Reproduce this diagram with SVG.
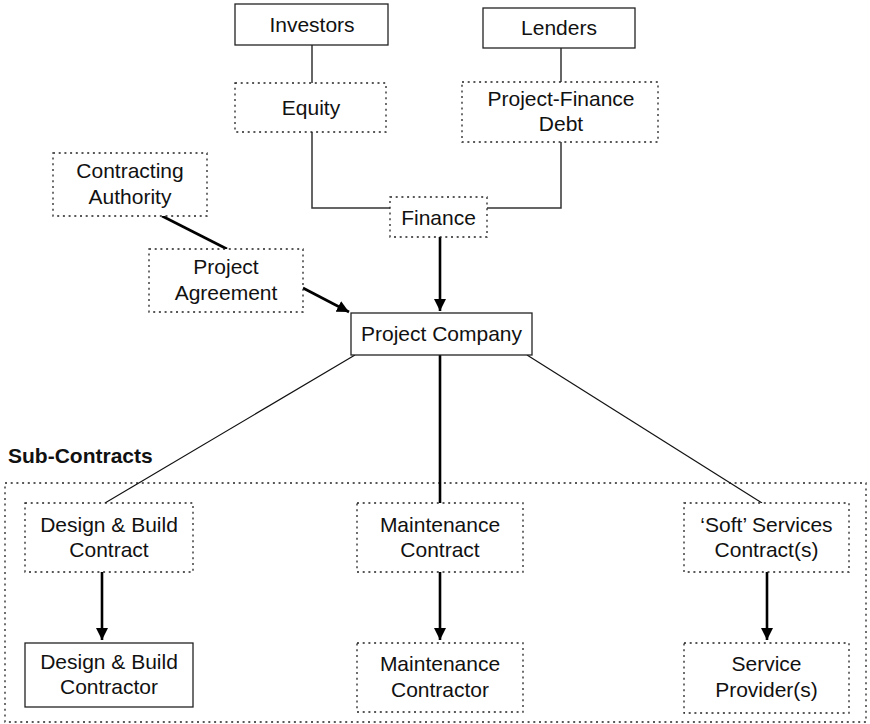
<svg xmlns="http://www.w3.org/2000/svg" width="870" height="724" viewBox="0 0 870 724">
<style>
text{font-family:"Liberation Sans",Arial,sans-serif;font-size:21px;fill:#111;text-anchor:middle}
.b{font-weight:bold;text-anchor:start}
.solid{fill:#fff;stroke:#222;stroke-width:1.3}
.dot{fill:#fff;stroke:#222;stroke-width:1.3;stroke-dasharray:2 3.7}
.thin{fill:none;stroke:#333;stroke-width:1.5}
.hair{fill:none;stroke:#111;stroke-width:1.2}
.thick{fill:none;stroke:#000;stroke-width:2.6}
</style>
<defs>
<marker id="ah" viewBox="0 0 12 12" refX="12" refY="6" markerWidth="12" markerHeight="12" markerUnits="userSpaceOnUse" orient="auto">
<path d="M0,0 L12,6 L0,12 z" fill="#000"/>
</marker>
</defs>
<g id="subcontracts-frame">
<rect class="dot" x="5" y="483" width="861" height="239" fill="none" style="fill:none"/>
<text class="b" x="8" y="463">Sub-Contracts</text>
</g>
<g id="connectors">
<line class="thin" x1="312" y1="45" x2="312" y2="83"/>
<line class="thin" x1="561" y1="48" x2="561" y2="82"/>
<polyline class="thin" points="312,132 312,208 390,208"/>
<polyline class="thin" points="561,142 561,208 487,208"/>
<line class="thick" x1="162" y1="216" x2="227" y2="249"/>
<line class="thick" x1="440" y1="237" x2="440" y2="311" marker-end="url(#ah)"/>
<line class="thick" x1="303" y1="288" x2="349" y2="312" marker-end="url(#ah)"/>
<line class="hair" x1="355" y1="355" x2="105" y2="503"/>
<line class="thick" x1="440" y1="355" x2="440" y2="503"/>
<line class="hair" x1="527" y1="355" x2="762" y2="503"/>
<line class="thick" x1="102" y1="572" x2="102" y2="640" marker-end="url(#ah)"/>
<line class="thick" x1="440" y1="572" x2="440" y2="640" marker-end="url(#ah)"/>
<line class="thick" x1="767" y1="572" x2="767" y2="640" marker-end="url(#ah)"/>
</g>
<g id="investors"><rect class="solid" x="235" y="4" width="153" height="41"/><text x="312" y="32">Investors</text></g>
<g id="lenders"><rect class="solid" x="483" y="8" width="152" height="40"/><text x="559" y="35">Lenders</text></g>
<g id="equity"><rect class="dot" x="235" y="83" width="151" height="49"/><text x="311" y="115">Equity</text></g>
<g id="project-finance-debt"><rect class="dot" x="462" y="82" width="196" height="60"/><text x="561" y="106">Project-Finance</text><text x="561" y="131">Debt</text></g>
<g id="contracting-authority"><rect class="dot" x="53" y="153" width="154" height="63"/><text x="130" y="178">Contracting</text><text x="130" y="204">Authority</text></g>
<g id="finance"><rect class="dot" x="390" y="197" width="97" height="40"/><text x="438.5" y="224.5">Finance</text></g>
<g id="project-agreement"><rect class="dot" x="149" y="249" width="154" height="63"/><text x="226" y="274">Project</text><text x="226" y="300">Agreement</text></g>
<g id="project-company"><rect class="solid" x="351" y="313" width="181" height="42"/><text x="441.5" y="341">Project Company</text></g>
<g id="design-build-contract"><rect class="dot" x="25" y="503" width="168" height="69"/><text x="109" y="532">Design &amp; Build</text><text x="109" y="557">Contract</text></g>
<g id="maintenance-contract"><rect class="dot" x="357" y="503" width="166" height="69"/><text x="440" y="532">Maintenance</text><text x="440" y="557">Contract</text></g>
<g id="soft-services-contract"><rect class="dot" x="684" y="503" width="165" height="69"/><text x="766.5" y="532">‘Soft’ Services</text><text x="766.5" y="557">Contract(s)</text></g>
<g id="design-build-contractor"><rect class="solid" x="25" y="643" width="168" height="64"/><text x="109" y="669">Design &amp; Build</text><text x="109" y="694">Contractor</text></g>
<g id="maintenance-contractor"><rect class="dot" x="357" y="643" width="166" height="69"/><text x="440" y="671">Maintenance</text><text x="440" y="697">Contractor</text></g>
<g id="service-providers"><rect class="dot" x="684" y="643" width="165" height="70"/><text x="766.5" y="671">Service</text><text x="766.5" y="697">Provider(s)</text></g>
</svg>
